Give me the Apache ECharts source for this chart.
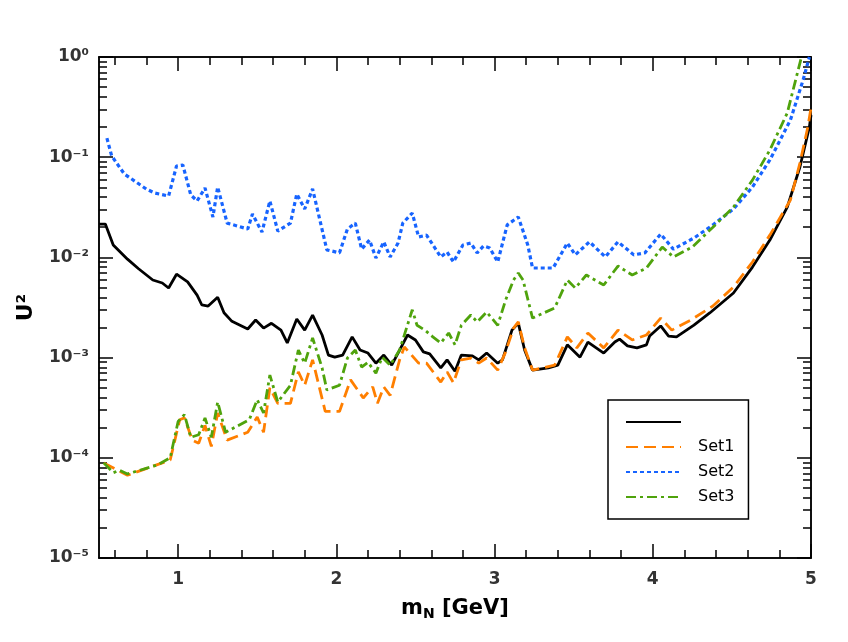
<!DOCTYPE html>
<html>
<head>
<meta charset="utf-8">
<script src="https://cdn.jsdelivr.net/npm/echarts@6/dist/echarts.min.js"></script>
<style>
html,body{margin:0;padding:0;background:#fff}
#main{width:848px;height:642px}
</style>
</head>
<body>
<div id="main"></div>
<script>
// m_N [GeV], U^2
let noSet = [[0.50,2.15e-2],[0.54,2.15e-2],[0.59,1.33e-2],[0.68,9.6e-3],[0.75,7.7e-3],[0.84,5.95e-3],[0.90,5.55e-3],[0.94,4.95e-3],[0.99,6.8e-3],[1.06,5.7e-3],[1.12,4.2e-3],[1.15,3.35e-3],[1.19,3.27e-3],[1.25,4.0e-3],[1.29,2.8e-3],[1.34,2.3e-3],[1.44,1.93e-3],[1.49,2.37e-3],[1.54,1.97e-3],[1.59,2.2e-3],[1.65,1.88e-3],[1.69,1.4e-3],[1.75,2.43e-3],[1.80,1.88e-3],[1.85,2.66e-3],[1.91,1.68e-3],[1.95,1.06e-3],[1.99,1.01e-3],[2.04,1.06e-3],[2.10,1.61e-3],[2.15,1.19e-3],[2.20,1.11e-3],[2.25,8.8e-4],[2.30,1.06e-3],[2.35,8.4e-4],[2.40,1.19e-3],[2.45,1.68e-3],[2.50,1.5e-3],[2.55,1.14e-3],[2.59,1.09e-3],[2.66,7.9e-4],[2.70,9.5e-4],[2.75,7.3e-4],[2.79,1.06e-3],[2.86,1.04e-3],[2.90,9.5e-4],[2.95,1.11e-3],[3.02,8.8e-4],[3.05,9.5e-4],[3.11,1.88e-3],[3.15,2.21e-3],[3.19,1.19e-3],[3.24,7.5e-4],[3.34,7.9e-4],[3.40,8.4e-4],[3.46,1.34e-3],[3.54,1.01e-3],[3.59,1.43e-3],[3.69,1.11e-3],[3.76,1.43e-3],[3.79,1.53e-3],[3.84,1.31e-3],[3.90,1.25e-3],[3.96,1.34e-3],[3.98,1.64e-3],[4.05,2.07e-3],[4.10,1.64e-3],[4.15,1.61e-3],[4.26,2.11e-3],[4.36,2.79e-3],[4.51,4.41e-3],[4.63,8.0e-3],[4.74,1.49e-2],[4.85,3.18e-2],[4.93,7.98e-2],[4.99,0.2],[5.00,0.264]];

let set1 = [[0.53,8.9e-5],[0.68,6.7e-5],[0.95,9.5e-5],[1.01,2.4e-4],[1.04,2.5e-4],[1.09,1.5e-4],[1.13,1.4e-4],[1.17,2.1e-4],[1.21,1.3e-4],[1.25,2.8e-4],[1.31,1.5e-4],[1.44,1.8e-4],[1.50,2.55e-4],[1.54,1.8e-4],[1.58,5.0e-4],[1.63,3.5e-4],[1.71,3.5e-4],[1.76,7.2e-4],[1.80,5.3e-4],[1.85,9.5e-4],[1.93,2.9e-4],[2.02,2.9e-4],[2.09,6.0e-4],[2.15,4.4e-4],[2.17,3.95e-4],[2.23,5.1e-4],[2.26,3.5e-4],[2.30,5.1e-4],[2.34,4.2e-4],[2.40,9.5e-4],[2.43,1.28e-3],[2.52,8.8e-4],[2.57,8.8e-4],[2.66,5.7e-4],[2.70,7.2e-4],[2.74,5.6e-4],[2.79,9.5e-4],[2.85,9.9e-4],[2.90,8.8e-4],[2.95,9.9e-4],[3.02,7.5e-4],[3.07,1.14e-3],[3.12,1.97e-3],[3.15,2.27e-3],[3.19,1.25e-3],[3.24,7.5e-4],[3.38,8.4e-4],[3.46,1.61e-3],[3.52,1.25e-3],[3.59,1.76e-3],[3.69,1.25e-3],[3.78,1.88e-3],[3.87,1.5e-3],[3.96,1.68e-3],[4.05,2.48e-3],[4.12,1.88e-3],[4.24,2.37e-3],[4.38,3.27e-3],[4.51,5.07e-3],[4.63,9.0e-3],[4.74,1.67e-2],[4.87,3.74e-2],[4.93,8.75e-2],[4.98,0.2],[5.00,0.31]];

let set2 = [[0.55,0.155],[0.58,0.103],[0.66,0.068],[0.80,0.048],[0.85,0.044],[0.94,0.041],[0.99,0.0817],[1.03,0.0836],[1.08,0.042],[1.12,0.0366],[1.17,0.0493],[1.22,0.0253],[1.25,0.0504],[1.31,0.022],[1.44,0.0192],[1.47,0.0271],[1.53,0.0179],[1.58,0.0366],[1.63,0.0183],[1.71,0.022],[1.75,0.0429],[1.80,0.0304],[1.85,0.0482],[1.94,0.0119],[2.02,0.0111],[2.07,0.0192],[2.12,0.022],[2.16,0.0121],[2.21,0.0149],[2.25,0.00986],[2.30,0.0143],[2.34,0.0101],[2.39,0.0139],[2.42,0.022],[2.48,0.0277],[2.52,0.016],[2.57,0.0167],[2.66,0.0101],[2.70,0.0113],[2.74,0.009],[2.80,0.0133],[2.85,0.0139],[2.89,0.0111],[2.93,0.013],[2.97,0.0124],[3.02,0.009],[3.08,0.0211],[3.15,0.0253],[3.21,0.0133],[3.24,0.00784],[3.37,0.00784],[3.46,0.0139],[3.51,0.0106],[3.60,0.0143],[3.70,0.0101],[3.78,0.0143],[3.88,0.0106],[3.95,0.0111],[4.05,0.0171],[4.13,0.0121],[4.26,0.0156],[4.38,0.0211],[4.51,0.0304],[4.63,0.0504],[4.74,0.0938],[4.87,0.235],[4.95,0.589],[4.99,1.0]];

let set3 = [[0.53,8.9e-5],[0.59,7.1e-5],[0.63,7.5e-5],[0.68,6.9e-5],[0.87,8.5e-5],[0.95,1.0e-4],[1.00,2.3e-4],[1.04,2.7e-4],[1.08,1.6e-4],[1.13,1.7e-4],[1.17,2.5e-4],[1.21,1.6e-4],[1.25,3.6e-4],[1.30,1.8e-4],[1.45,2.4e-4],[1.50,3.8e-4],[1.54,2.8e-4],[1.58,6.7e-4],[1.63,3.6e-4],[1.71,5.3e-4],[1.76,1.19e-3],[1.80,8.8e-4],[1.85,1.57e-3],[1.91,7.9e-4],[1.94,4.75e-4],[2.02,5.3e-4],[2.07,9.9e-4],[2.12,1.19e-3],[2.16,8.05e-4],[2.20,9.0e-4],[2.25,7.0e-4],[2.29,1.01e-3],[2.34,8.4e-4],[2.40,1.19e-3],[2.48,3.0e-3],[2.51,2.1e-3],[2.56,1.88e-3],[2.61,1.61e-3],[2.66,1.4e-3],[2.71,1.76e-3],[2.75,1.34e-3],[2.79,2.1e-3],[2.85,2.66e-3],[2.89,2.27e-3],[2.95,2.85e-3],[3.02,2.1e-3],[3.07,3.76e-3],[3.12,5.95e-3],[3.15,7.0e-3],[3.18,5.95e-3],[3.24,2.48e-3],[3.38,3.13e-3],[3.46,5.95e-3],[3.51,4.95e-3],[3.58,6.67e-3],[3.69,5.3e-3],[3.78,8.2e-3],[3.87,6.67e-3],[3.96,7.84e-3],[4.06,1.27e-2],[4.13,1.01e-2],[4.25,1.27e-2],[4.38,2.0e-2],[4.51,3.18e-2],[4.63,5.9e-2],[4.74,0.118],[4.85,0.276],[4.93,0.87],[4.94,1.0]];

let xMajor = [1, 2, 3, 4, 5];
let xMinor = [0.6,0.8,1.2,1.4,1.6,1.8,2.2,2.4,2.6,2.8,3.2,3.4,3.6,3.8,4.2,4.4,4.6,4.8];
let yDecades = [1e-5, 1e-4, 1e-3, 1e-2, 1e-1, 1];
let yMantissa = [2, 3, 4, 5, 6, 7, 8, 9];

let yMinor = [];
yDecades.slice(0, -1).forEach(function (d) {
    yMantissa.forEach(function (m) { yMinor.push(+(m * d).toPrecision(3)); });
});

let supMap = {'-': '\u207B', '0': '\u2070', '1': '\u00B9', '2': '\u00B2', '3': '\u00B3', '4': '\u2074', '5': '\u2075'};
function powLabel(v) {
    let e = String(Math.round(Math.log10(v)));
    return '10' + e.split('').map(function (c) { return supMap[c]; }).join('');
}

let myChart = echarts.init(document.getElementById('main'));

let axisColor = '#000';
let labelFont = {fontFamily: 'DejaVu Sans', fontWeight: 'bold', fontSize: 17, color: '#333'};

function xAx(pos, values, len, withLabel) {
    return {
        type: 'value', position: pos, min: 0.5, max: 5,
        axisLine: {show: true, onZero: false, lineStyle: {color: axisColor, width: 1.5}},
        axisTick: {show: true, inside: true, length: len, customValues: values, lineStyle: {color: axisColor, width: 1.5}},
        axisLabel: withLabel ? Object.assign({show: true, customValues: values, margin: 13}, labelFont) : {show: false},
        splitLine: {show: false}
    };
}
function yAx(pos, values, len, withLabel) {
    let ax = {
        type: 'log', logBase: 10, position: pos, min: 1e-5, max: 1,
        axisLine: {show: true, onZero: false, lineStyle: {color: axisColor, width: 1.5}},
        axisTick: {show: true, inside: true, length: len, lineStyle: {color: axisColor, width: 1.5}},
        axisLabel: withLabel ? Object.assign({show: true, margin: 10, formatter: powLabel}, labelFont) : {show: false},
        splitLine: {show: false}
    };
    if (values) ax.axisTick.customValues = values;
    return ax;
}

let xAxes = [xAx('bottom', xMajor, 14, true), xAx('bottom', xMinor, 8, false), xAx('top', xMajor, 14, false), xAx('top', xMinor, 8, false)];
xAxes[0].name = 'm{sub|N} [GeV]';
xAxes[0].nameLocation = 'middle';
xAxes[0].nameGap = 39;
xAxes[0].nameTextStyle = {fontFamily: 'DejaVu Sans', fontWeight: 'bold', fontSize: 21, color: '#000',
    rich: {sub: {fontFamily: 'DejaVu Sans', fontWeight: 'bold', fontSize: 14, color: '#000', padding: [10, 0, 0, 0]}}};

let yAxes = [yAx('left', null, 14, true), yAx('left', yMinor, 8, false), yAx('right', null, 14, false), yAx('right', yMinor, 8, false)];
yAxes[0].name = 'U\u00B2';
yAxes[0].nameLocation = 'middle';
yAxes[0].nameGap = 62;
yAxes[0].nameTextStyle = {fontFamily: 'DejaVu Sans', fontWeight: 'bold', fontSize: 22, color: '#000'};

function line(name, data, color, width, dash) {
    return {
        name: name, type: 'line', data: data, xAxisIndex: 0, yAxisIndex: 0,
        showSymbol: false, symbol: 'none', legendIcon: 'none', color: color,
        lineStyle: {color: color, width: width, type: dash}
    };
}

let option = {
    animation: false,
    backgroundColor: '#fff',
    grid: {left: 99, right: 37, top: 57, bottom: 84, containLabel: false},
    legend: {
        orient: 'vertical', left: 608, top: 400,
        padding: [14, 14, 14, 17], itemGap: 9, itemWidth: 55, itemHeight: 14,
        backgroundColor: '#fff', borderColor: '#000', borderWidth: 1.5, borderRadius: 0,
        itemStyle: {opacity: 0},
        textStyle: {fontFamily: 'DejaVu Sans', fontSize: 16, color: '#000', padding: [0, 0, 0, 12]},
        data: [' ', 'Set1', 'Set2', 'Set3']
    },
    xAxis: xAxes,
    yAxis: yAxes,
    series: [
        line(' ', noSet, '#000000', 2.8, 'solid'),
        line('Set1', set1, '#ff7f00', 2.8, [12, 6]),
        line('Set2', set2, '#1764ff', 3.2, [4, 3]),
        line('Set3', set3, '#4fa30c', 2.8, [10, 4, 3, 4])
    ]
};

myChart.setOption(option);
</script>
</body>
</html>
